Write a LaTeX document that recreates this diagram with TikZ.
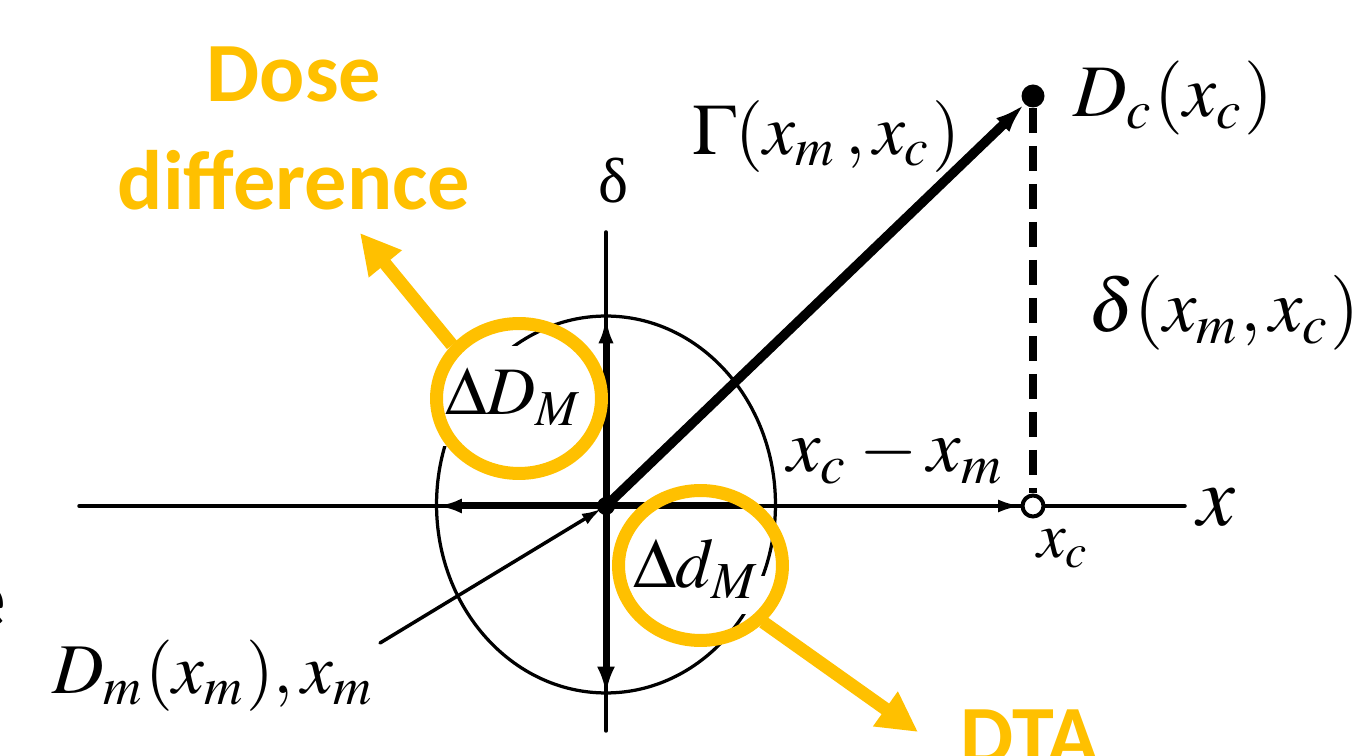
\documentclass[tikz,border=0pt]{standalone}
\usepackage{mathptmx}
\usepackage[no-math]{fontspec}
\newfontfamily\calib{Carlito}
\newfontfamily\libser{Liberation Serif}
\usetikzlibrary{arrows.meta}
\definecolor{gold}{HTML}{FFC000}
\newcommand\fitw[2]{\resizebox{#1}{!}{#2}}
\tikzset{
  axisln/.style={line width=0.07cm, line cap=round},
  boldln/.style={line width=0.14cm},
  gamln/.style={line width=0.19cm},
  dashln/.style={line width=0.17cm, dash pattern=on 0.5cm off 0.26cm},
  ellln/.style={line width=0.065cm},
  ring/.style={draw=gold, line width=0.26cm},
  goldarrow/.style={draw=gold, line width=0.26cm, -{Triangle[length=0.8cm,width=0.8cm]}, gold},
  lbl/.style={inner sep=0pt, outer sep=0pt, anchor=base west},
  goldtxt/.style={text=gold, font=\calib\bfseries\fontsize{48}{62}\selectfont, inner sep=0pt, align=center},
  mask/.style={fill=white, draw=none},
}
\begin{document}
\begin{tikzpicture}[x=0.02cm, y=-0.02cm]
\useasboundingbox (0,0) rectangle (1360,756);
% key points
\coordinate (O) at (606,506);
\coordinate (xl) at (79,506);
\coordinate (xr) at (1185,506);
\coordinate (yt) at (606,232);
\coordinate (yb) at (606,731);
\coordinate (etop) at (606,316);
\coordinate (ebot) at (606,694);
\coordinate (eleft) at (437,506);
\coordinate (hend) at (748,506);
\coordinate (dml) at (380,643);
% ellipse
\draw[ellln] (606,504.5) ellipse [x radius=3.39cm, y radius=3.77cm];
% axes
\draw[axisln] (xl) -- (xr);
\draw[axisln] (yt) -- (yb);
% nodes at x_c and D_c
\node[circle, fill=black, minimum size=0.46cm, inner sep=0pt] (dc) at (1033,96) {};
\node[circle, draw=black, fill=white, line width=0.08cm, minimum size=0.42cm, inner sep=0pt] (xc) at (1033,506) {};
% bold arrows
\draw[boldln, -{Latex[length=0.55cm,width=0.3cm]}] (O) -- (etop);
\draw[boldln, -{Latex[length=0.55cm,width=0.36cm]}] (O) -- (ebot);
\draw[boldln, -{Latex[length=0.5cm,width=0.3cm]}] (O) -- (eleft);
\draw[boldln] (O) -- (hend);
\draw[axisln, -{Latex[length=0.45cm,width=0.26cm]}] (hend) -- (xc);
\draw[axisln, shorten >=0.1cm, -{Latex[length=0.4cm,width=0.24cm]}] (dml) -- (O);
\draw[dashln] (dc) -- (xc);
\draw[gamln, -{Latex[length=0.6cm,width=0.38cm]}] (O) -- (dc);
\node[circle, fill=black, minimum size=0.36cm, inner sep=0pt] (odot) at (O) {};
% white masks behind labels
\fill[mask] (438,346) rectangle (592,446);
\fill[mask] (736,576) rectangle (776,614);
% labels
\node[lbl] (gam) at (692,155) {\fitw{5.36cm}{$\Gamma(x_{m}\,,x_{c})$}};
\node[lbl] (dclab) at (1073,117) {\fitw{4.0cm}{$D_{c}(x_{c})$}};
\node[lbl] (dellab) at (1088,332) {\fitw{5.44cm}{$\delta(x_{m},x_{c})$}};
\node[lbl] (difflab) at (787,472) {\fitw{4.36cm}{$x_{c}-x_{m}$}};
\node[lbl] (xlab) at (1197,526) {\fitw{0.76cm}{$x$}};
\node[lbl] (xclab) at (1037,558) {\fitw{1.06cm}{$x_{c}$}};
\node[lbl] (dDM) at (445,415) {\fitw{2.76cm}{$\Delta D_{M}$}};
\node[lbl] (ddM) at (633,588) {\fitw{2.54cm}{$\Delta d_{M}$}};
\node[lbl] (dmlab) at (52,694) {\fitw{6.46cm}{$D_{m}(x_{m}),x_{m}$}};
\node[lbl] (deltop) at (598,203) {\fitw{0.6cm}{\libser δ}};
% orange annotations
\draw[ring] (519,398.5) ellipse [x radius=1.65cm, y radius=1.5cm];
\draw[ring] (700.5,565.5) ellipse [x radius=1.64cm, y radius=1.5cm];
\coordinate (r1) at (452,345);
\coordinate (t1) at (360,233);
\coordinate (r2) at (763,622);
\coordinate (t2) at (918,732);
\draw[goldarrow] (r1) -- (t1);
\draw[goldarrow] (r2) -- (t2);
\node[goldtxt, anchor=base] (dose) at (294,101.5) {Dose};
\node[goldtxt, anchor=base] (diff) at (294,210) {difference};
\node[goldtxt, anchor=base west] (dta) at (960,765) {DTA};
\node[inner sep=0pt, anchor=base east, font=\calib\bfseries\fontsize{48}{62}\selectfont] (edge) at (6,628) {e};
\end{tikzpicture}
\end{document}
